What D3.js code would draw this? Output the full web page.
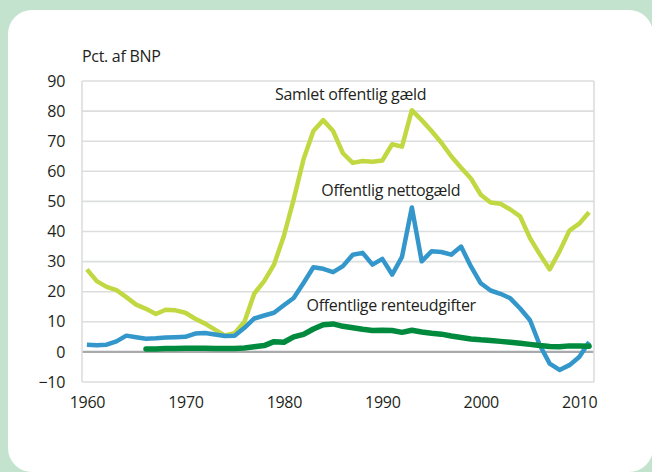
<!DOCTYPE html>
<html>
<head>
<meta charset="utf-8">
<script src="https://cdn.jsdelivr.net/npm/d3@7"></script>
<style>
  body { margin: 0; background: #c4e3cf; }
  svg { display: block; }
  text { font-family: "Open Sans", sans-serif; fill: #231f20; letter-spacing: -0.3px; }
</style>
</head>
<body>
<div id="chart"></div>
<script>
const years = d3.range(1960, 2012);
const tickYears = [1960, 1970, 1980, 1990, 2000, 2010];
const yTicks = [-10, 0, 10, 20, 30, 40, 50, 60, 70, 80, 90];

// Samlet offentlig gæld, 1960-2011
const samletGaeld = [
    27.4, 23.5, 21.6, 20.5, 18.2, 15.7, 14.3, 12.6, 14.0, 13.8,
    13.0, 11.0, 9.4, 7.4, 5.5, 6.2, 10.0, 19.4, 23.5, 29.0,
    38.5, 50.7, 64.0, 73.4, 77.0, 73.4, 66.0, 62.8, 63.4, 63.2,
    63.6, 69.0, 68.2, 80.3, 77.0, 73.4, 69.5, 65.0, 61.2, 57.6,
    52.2, 49.6, 49.2, 47.3, 45.0, 37.8, 32.4, 27.4, 33.4, 40.3,
    42.6, 46.4
];

// Offentlig nettogæld, 1960-2011
const nettoGaeld = [
    2.4, 2.2, 2.4, 3.5, 5.4, 4.9, 4.4, 4.5, 4.8, 4.9,
    5.0, 6.1, 6.3, 5.8, 5.3, 5.4, 8.0, 11.1, 12.1, 13.0,
    15.5, 17.9, 22.9, 28.1, 27.6, 26.5, 28.5, 32.3, 32.9, 29.0,
    30.9, 25.7, 31.6, 48.0, 30.1, 33.4, 33.2, 32.3, 35.0, 28.4,
    22.8, 20.4, 19.3, 17.8, 14.4, 10.5, 2.2, -3.9, -6.0, -4.4,
    -1.7, 3.3
];

// Offentlige renteudgifter, 1966-2011
const renteYears = d3.range(1966, 2012);
const renteUdgifter = [
    1.0, 1.0, 1.1, 1.1, 1.2, 1.2, 1.2, 1.1, 1.1, 1.1,
    1.3, 1.7, 2.1, 3.4, 3.2, 5.0, 5.8, 7.6, 9.0, 9.3,
    8.5, 8.0, 7.5, 7.1, 7.2, 7.1, 6.5, 7.2, 6.6, 6.2,
    5.9, 5.3, 4.8, 4.3, 4.0, 3.8, 3.5, 3.2, 2.9, 2.5,
    2.1, 1.8, 1.7, 2.0, 2.0, 1.9
];

const seriesLabels = [
    { text: "Samlet offentlig gæld", year: 1979.1, value: 83.6 },
    { text: "Offentlig nettogæld", year: 1983.8, value: 51.7 },
    { text: "Offentlige renteudgifter", year: 1982.3, value: 13.5 }
];

const width = 652, height = 472;
const plot = { left: 82, right: 594, top: 81, bottom: 382 };

const svg = d3.select("#chart").append("svg")
    .attr("width", width)
    .attr("height", height);

// white card
svg.append("rect")
    .attr("x", 8).attr("y", 10)
    .attr("width", 645).attr("height", 462)
    .attr("rx", 24)
    .attr("fill", "#ffffff");

const x = d3.scalePoint()
    .domain(years)
    .range([plot.left, plot.right])
    .padding(0.5);
const step = x.step();
const xAt = yr => x(1960) + (yr - 1960) * step;

const y = d3.scaleLinear()
    .domain([-10, 90])
    .range([plot.bottom, plot.top]);

// gridlines
svg.append("g")
    .selectAll("line")
    .data(yTicks)
    .join("line")
    .attr("x1", plot.left).attr("x2", plot.right)
    .attr("y1", d => y(d)).attr("y2", d => y(d))
    .attr("stroke", d => d === 0 ? "#a7a9ac" : "#dcdddd")
    .attr("stroke-width", d => d === 0 ? 2.2 : 1.6);

// frame sides
svg.append("g")
    .selectAll("line")
    .data([plot.left, plot.right])
    .join("line")
    .attr("x1", d => d).attr("x2", d => d)
    .attr("y1", plot.top).attr("y2", plot.bottom)
    .attr("stroke", "#dcdddd")
    .attr("stroke-width", 1.6);

// y axis labels
const yAxis = d3.axisLeft(y).tickValues(yTicks).tickSize(0).tickPadding(17);
svg.append("g")
    .attr("transform", `translate(${plot.left},0)`)
    .call(yAxis)
    .call(g => g.select(".domain").remove())
    .selectAll("text")
    .style("font-size", "16px")
    .attr("fill", "#231f20");

// x axis labels
const xAxis = d3.axisBottom(x).tickValues(tickYears).tickSize(0).tickPadding(15);
svg.append("g")
    .attr("transform", `translate(0,${plot.bottom})`)
    .call(xAxis)
    .call(g => g.select(".domain").remove())
    .selectAll("text")
    .style("font-size", "16px")
    .attr("fill", "#231f20");

// unit label
svg.append("text")
    .attr("x", plot.left)
    .attr("y", 62)
    .style("font-size", "16px")
    .text("Pct. af BNP");

const line = d3.line()
    .x(d => x(d[0]))
    .y(d => y(d[1]));

svg.append("path")
    .datum(d3.zip(years, samletGaeld))
    .attr("d", line)
    .attr("fill", "none")
    .attr("stroke", "#c2d842")
    .attr("stroke-width", 4.5)
    .attr("stroke-linejoin", "round");

svg.append("path")
    .datum(d3.zip(years, nettoGaeld))
    .attr("d", line)
    .attr("fill", "none")
    .attr("stroke", "#3497cb")
    .attr("stroke-width", 4.5)
    .attr("stroke-linejoin", "round");

svg.append("path")
    .datum(d3.zip(renteYears, renteUdgifter))
    .attr("d", line)
    .attr("fill", "none")
    .attr("stroke", "#008a3e")
    .attr("stroke-width", 5.5)
    .attr("stroke-linejoin", "round")
    .attr("stroke-linecap", "round");

svg.append("g")
    .selectAll("text")
    .data(seriesLabels)
    .join("text")
    .attr("x", d => xAt(d.year))
    .attr("y", d => y(d.value))
    .style("font-size", "16px")
    .text(d => d.text);
</script>
</body>
</html>
